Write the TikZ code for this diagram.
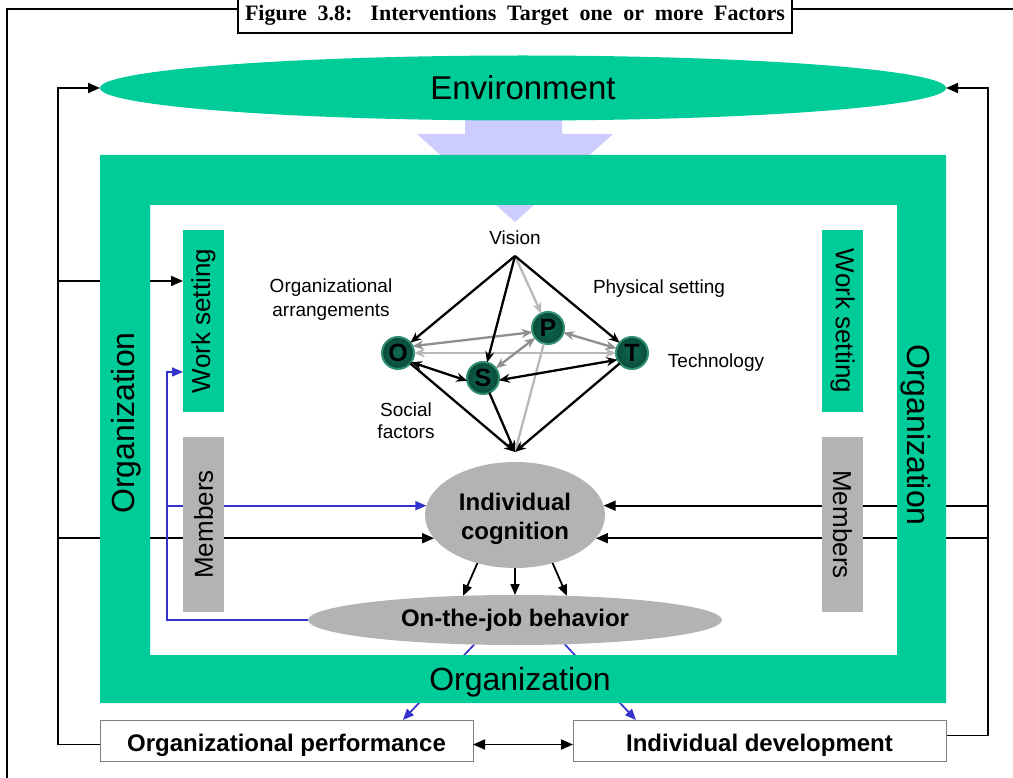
\documentclass[tikz,border=0pt]{standalone}
\usepackage{fontspec}
\setmainfont{Liberation Sans}
\newfontfamily\serifbf{Liberation Serif}
\usetikzlibrary{shapes.geometric,arrows.meta,calc}
\definecolor{orggreen}{HTML}{00CC99}
\definecolor{arrblue}{HTML}{CCCCFF}
\definecolor{boxgray}{HTML}{B3B3B3}
\definecolor{linkblue}{HTML}{3333CC}
\definecolor{midgray}{HTML}{8F8F8F}
\definecolor{ltgray}{HTML}{B8B8B8}
\definecolor{ballin}{HTML}{0F6B52}
\definecolor{ballout}{HTML}{0A4A3A}
\definecolor{ballrim}{HTML}{2F8F6F}
\definecolor{boxedge}{HTML}{7F7F7F}
\pgfdeclarelayer{bg}
\pgfdeclarelayer{back}
\pgfsetlayers{bg,back,main}
\newcommand{\fsz}[1]{\fontsize{#1}{#1}\selectfont}
\begin{document}
\begin{tikzpicture}[x=1pt,y=-1pt,
  every node/.style={inner sep=0pt, outer sep=0pt},
  fbarrow/.style={line width=1.8pt, -{Triangle[length=12pt,width=10pt]}},
  fbdbl/.style={line width=1.8pt, {Triangle[length=12pt,width=10pt]}-{Triangle[length=12pt,width=10pt]}},
  bluearrow/.style={line width=1.7pt, draw=linkblue, -{Triangle[length=11pt,width=9pt,fill=linkblue]}},
  carr/.style={line width=1.8pt, -{Triangle[length=11pt,width=9pt]}},
  tarr/.style={line width=2.3pt, -{Stealth[length=11pt,width=9pt]}},
  tdbl/.style={line width=2.3pt, {Stealth[length=11pt,width=9pt]}-{Stealth[length=11pt,width=9pt]}},
  ball/.style={circle, minimum size=32pt, inner color=ballin, outer color=ballout, draw=ballrim, line width=2pt, font=\fsz{25}\bfseries},
  sidebox/.style={minimum width=41pt, minimum height=182pt, fill=orggreen, font=\fsz{26}},
  membox/.style={minimum width=41pt, minimum height=175pt, fill=boxgray, font=\fsz{26}},
  bigtext/.style={font=\fsz{32}},
  lbl/.style={font=\fsz{19}, align=center},
  outbox/.style={draw=boxedge, line width=1pt, fill=white, minimum width=373pt, minimum height=41pt, font=\fsz{24}\bfseries}
]
\useasboundingbox (0,0) rectangle (1013,778);

% title
\node[draw, line width=2pt, fill=white, minimum width=554pt, minimum height=50pt, anchor=south] (titlebox) at (515,33) {};
\node[font=\serifbf\bfseries\fsz{22}, anchor=base] (title) at (515,21) {\makebox[540pt][s]{Figure 3.8: Interventions Target one or more Factors}};

% environment
\node[ellipse, fill=orggreen, minimum width=846pt, minimum height=65pt, font=\fsz{33}] (env) at (523,88) {Environment};

% frame
\begin{pgfonlayer}{back}
\fill[orggreen, even odd rule] (100,155) rectangle (946,703) (150,205) rectangle (897,655);
\end{pgfonlayer}
\node[bigtext, rotate=90] (orgL) at (126,423) {Organization};
\node[bigtext, rotate=-90] (orgR) at (916,435) {Organization};
\node[bigtext] (orgB) at (520,682) {Organization};

% side boxes
\node[sidebox] (wsL) at (203.5,321) {\rotatebox{90}{Work setting}};
\node[sidebox] (wsR) at (842.5,321) {\rotatebox{-90}{Work setting}};
\node[membox] (memL) at (203.5,524.5) {\rotatebox{90}{Members}};
\node[membox] (memR) at (842.5,524.5) {\rotatebox{-90}{Members}};
\coordinate (wsLa) at ($(wsL.north west)!0.28!(wsL.south west)$);
\coordinate (wsLb) at ($(wsL.north west)!0.78!(wsL.south west)$);

% ellipses
\node[ellipse, fill=boxgray, minimum width=180pt, minimum height=106pt] (cog) at (515,515) {};
\node[font=\fontsize{24}{29}\selectfont\bfseries, align=center] (cogtext) at (515,519) {Individual\\cognition};
\node[ellipse, fill=boxgray, minimum width=414pt, minimum height=50pt, font=\fsz{24}\bfseries] (beh) at (515,620) {On-the-job behavior};

% output boxes
\node[outbox] (op) at (286.5,740.5) {\raisebox{-2pt}[17.5pt][0pt]{Organizational performance}};
\node[outbox] (id) at (759.5,740.5) {\raisebox{-2pt}[17.5pt][0pt]{Individual development}};
\coordinate (opt) at ($(op.north west)!0.812!(op.north east)$);
\coordinate (idt) at ($(id.north west)!0.169!(id.north east)$);

% tetrahedron
\node[lbl] (vision) at (515,238) {Vision};
\node[lbl] (orgarr) at (331,300) {Organizational\\[5pt]arrangements};
\node[lbl] (phys) at (659,289) {Physical setting};
\node[lbl] (tech) at (716,363) {Technology};
\node[lbl] (soc) at (406,421) {Social\\[3pt]factors};
\coordinate (vtop) at (515,256);
\coordinate (vbot) at (515,452);
\node[ball] (O) at (398,353) {O};
\node[ball] (P) at (548,328) {P};
\node[ball] (T) at (632,353) {T};
\node[ball] (S) at (483,378) {S};

\draw[tarr, draw=ltgray] (vtop) -- (P);
\draw[tarr, draw=ltgray] (P) -- (vbot);
\draw[tdbl, draw=ltgray] (O) -- (T);
\draw[tdbl, draw=midgray] (O.25) -- (P.195);
\draw[tdbl, draw=midgray] (P) -- (T);
\draw[tdbl, draw=midgray] (S) -- (P);
\draw[tarr] (vtop) -- (O);
\draw[tarr] (vtop) -- (S);
\draw[tarr] (vtop) -- (T);
\draw[tdbl] (O.-35) -- (S.190);
\draw[tdbl] (S.-8) -- (T.205);
\draw[tarr] (O) -- (vbot);
\draw[tarr] (S) -- (vbot);
\draw[tarr] (T) -- (vbot);

% cognition to behavior
\draw[carr] (cog.232) -- (beh.155);
\draw[carr] (cog.south) -- (beh.north);
\draw[carr] (cog.308) -- (beh.25);

\draw[fbdbl] ([yshift=-4pt]op.east) -- ([yshift=-4pt]id.west);

\coordinate (lx) at (58,0);
\coordinate (rx) at (988,0);
\coordinate (bx) at (167,0);

\begin{pgfonlayer}{bg}
\draw[line width=2pt] (7,800) -- (7,9) -- (1020,9);
\fill[arrblue] (465,100) -- (562,100) -- (562,134) -- (613,134) -- (515,222) -- (417,134) -- (465,134) -- cycle;
% left feedback
\draw[fbarrow] ([yshift=-4pt]op.west) -- ([yshift=-4pt]op.west -| lx) -- (env.west -| lx) -- (env.west);
\draw[fbarrow] (wsLa -| lx) -- (wsLa);
\draw[fbarrow] (cog.196 -| lx) -- (cog.196);
% right feedback
\draw[fbarrow] ([yshift=5pt]id.east) -- ([yshift=5pt]id.east -| rx) -- (env.east -| rx) -- (env.east);
\draw[fbarrow] (cog.6 -| rx) -- (cog.6);
\draw[fbarrow] (cog.344 -| rx) -- (cog.344);
% blue
\draw[bluearrow] (beh.west) -- (beh.west -| bx) -- (wsLb -| bx) -- (wsLb);
\draw[bluearrow] (cog.174 -| bx) -- (cog.174);
\draw[bluearrow] (beh.211) -- (opt);
\draw[bluearrow] (beh.334) -- (idt);
\end{pgfonlayer}
\end{tikzpicture}
\end{document}
